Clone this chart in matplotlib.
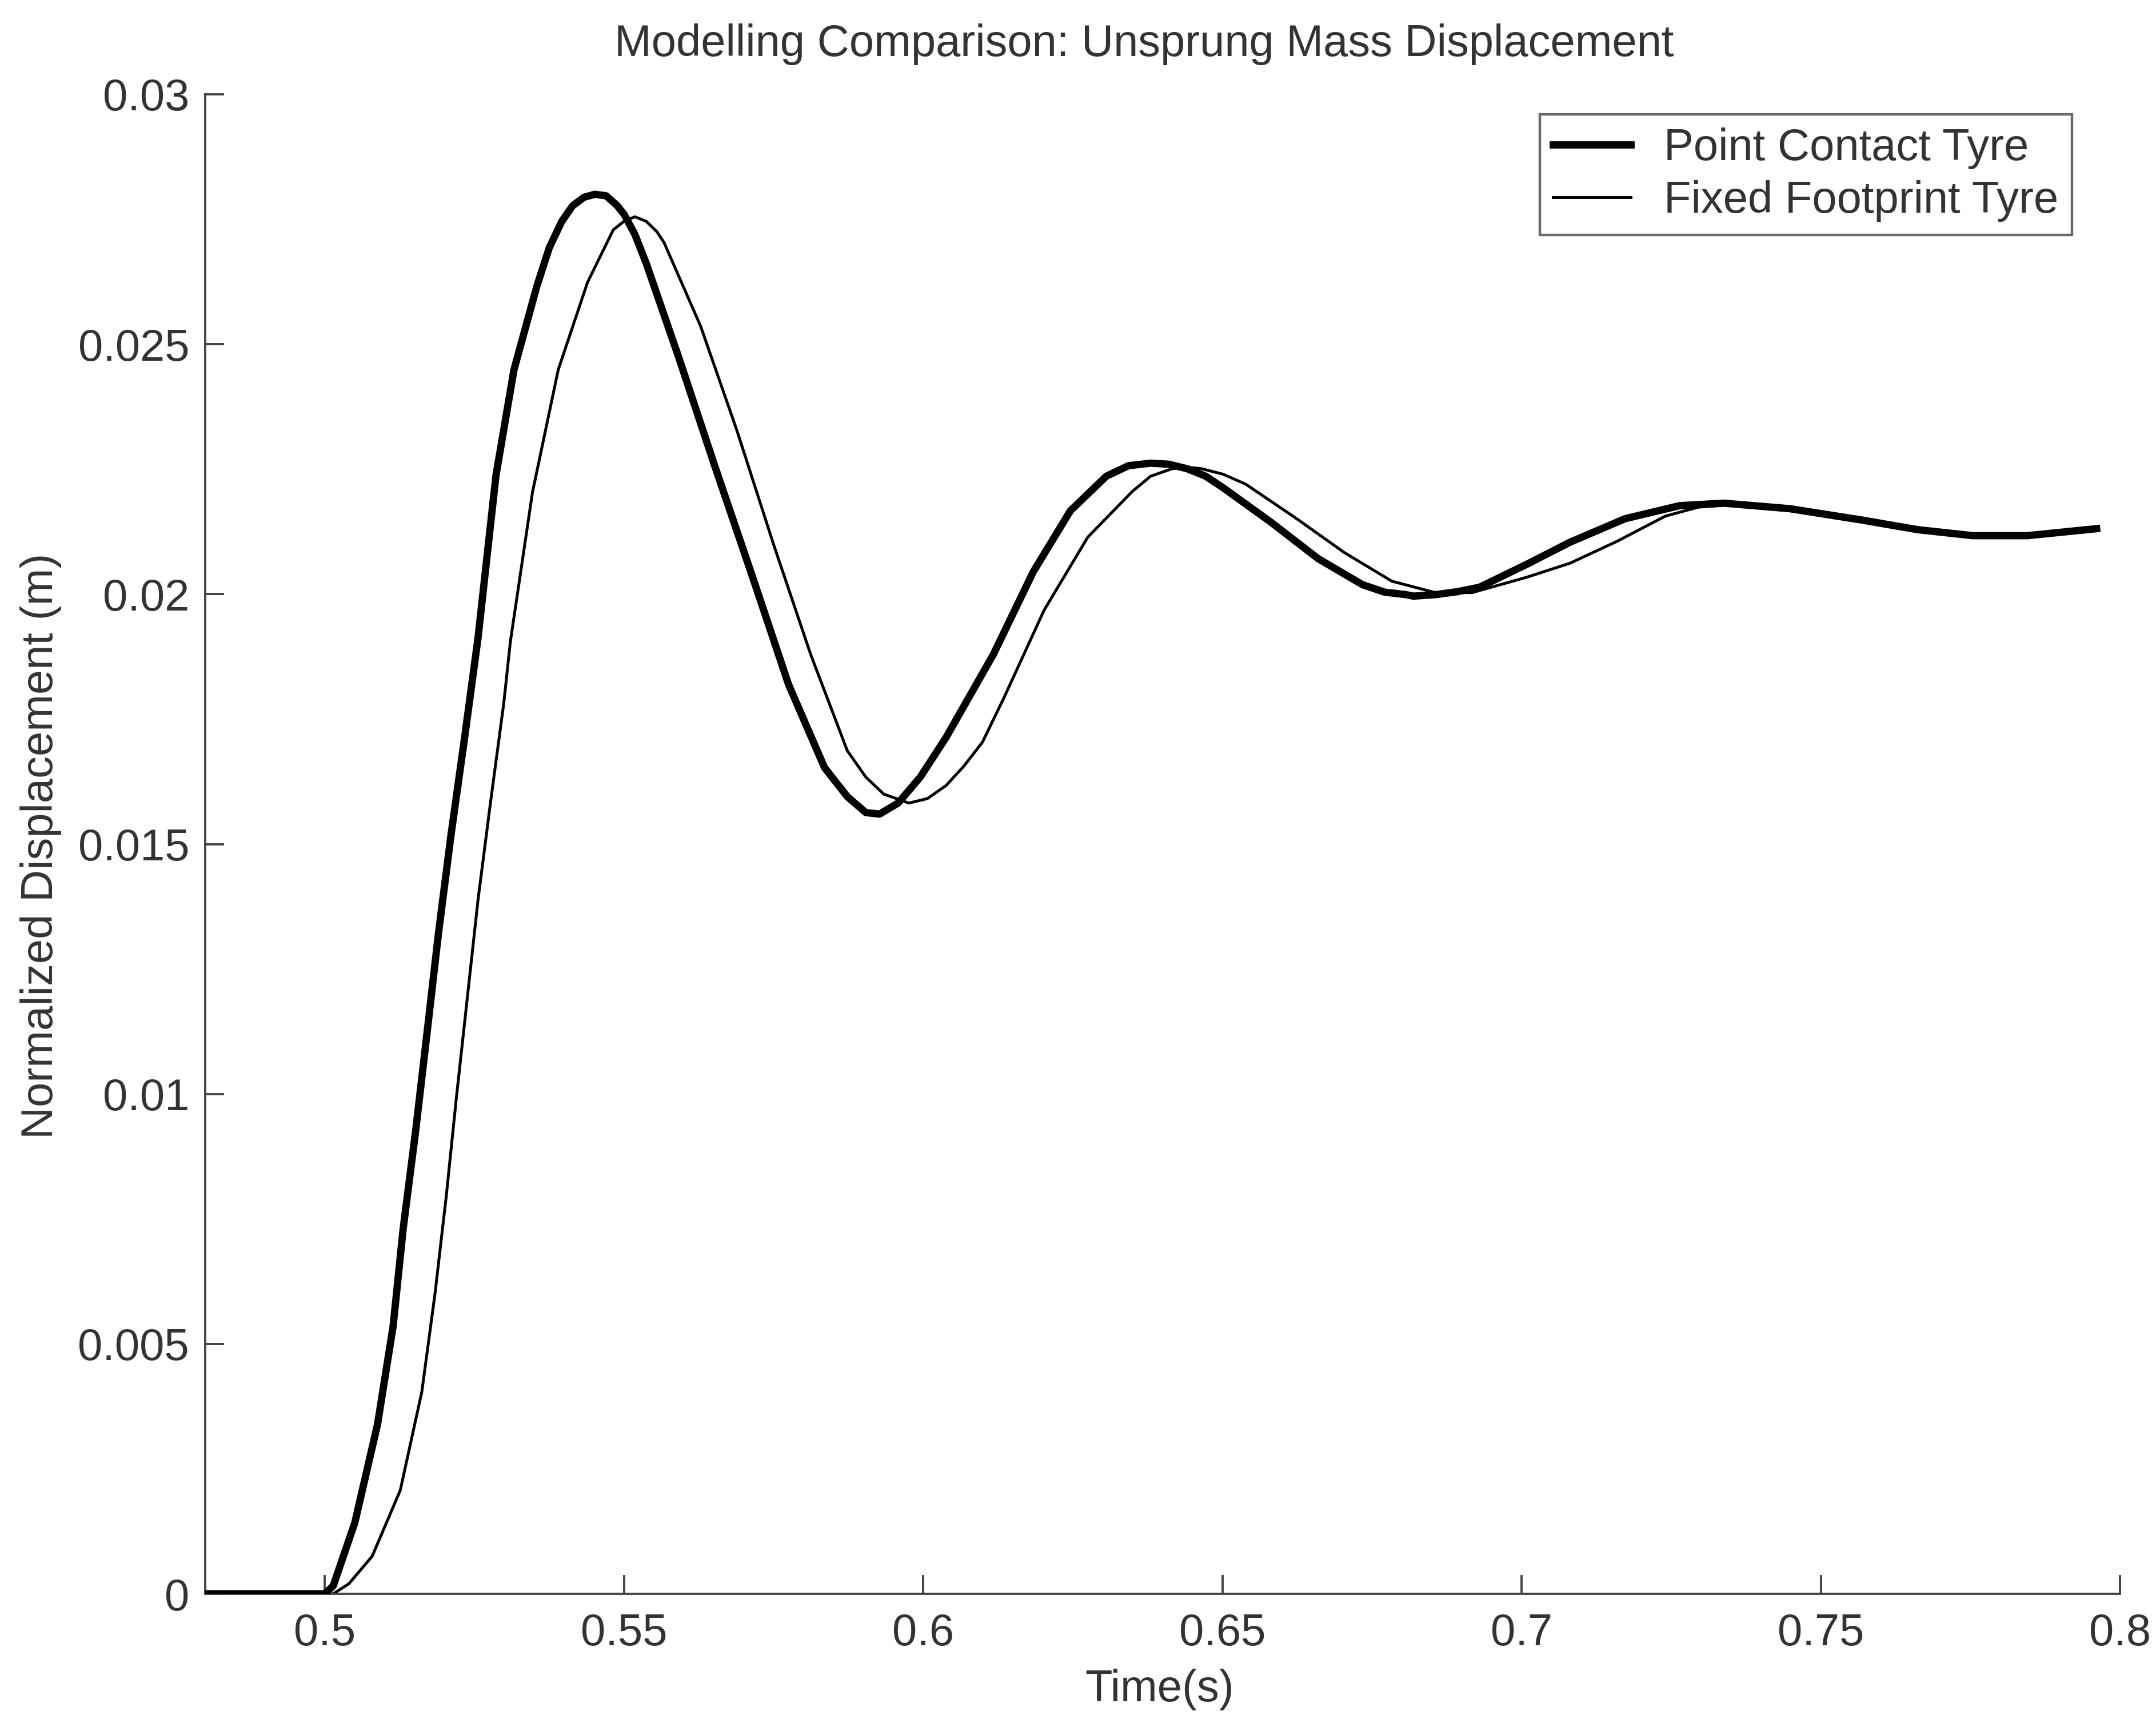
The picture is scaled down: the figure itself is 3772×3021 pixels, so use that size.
import matplotlib
matplotlib.use("Agg")
import matplotlib.pyplot as plt
from matplotlib.ticker import FixedLocator, FixedFormatter

plt.rcParams['font.family'] = ['Liberation Sans', 'DejaVu Sans']

# Point contact tyre model: time (s) and unsprung mass displacement (m)
t_point = [0.480, 0.500, 0.5014, 0.5050, 0.5088, 0.5114, 0.5131, 0.5152, 0.5171,
           0.5190, 0.5211, 0.5234, 0.5256, 0.5286, 0.5316, 0.5354, 0.5375, 0.5396,
           0.5414, 0.5433, 0.5451, 0.5470, 0.5488, 0.5500, 0.5518, 0.5537, 0.5591,
           0.5652, 0.5714, 0.5775, 0.5835, 0.5873, 0.5904, 0.5927, 0.5958, 0.5995,
           0.6038, 0.6117, 0.6184, 0.6246, 0.6306, 0.6343, 0.6380, 0.6410, 0.6441,
           0.6472, 0.6501, 0.6581, 0.6660, 0.6734, 0.6771, 0.6807, 0.6819, 0.6856,
           0.6893, 0.6930, 0.7009, 0.7081, 0.7173, 0.7264, 0.7338, 0.7448, 0.7570,
           0.7662, 0.7754, 0.7845, 0.7961]
d_point = [0.0, 0.0, 0.00016, 0.00142, 0.00339, 0.00535, 0.00732, 0.00929, 0.01125,
           0.01323, 0.01520, 0.01717, 0.01913, 0.02238, 0.02449, 0.02615, 0.02693, 0.02746,
           0.02777, 0.02794, 0.02800, 0.02797, 0.02778, 0.02760, 0.02720, 0.02662, 0.02475,
           0.02255, 0.02037, 0.01819, 0.01653, 0.01595, 0.01563, 0.01560, 0.01582, 0.01634,
           0.01713, 0.01879, 0.02045, 0.02167, 0.02236, 0.02257, 0.02262, 0.02260, 0.02251,
           0.02236, 0.02213, 0.02144, 0.02071, 0.02019, 0.02004, 0.01999, 0.01996, 0.01999,
           0.02005, 0.02014, 0.02060, 0.02104, 0.02151, 0.02177, 0.02182, 0.02171, 0.02148,
           0.02129, 0.02117, 0.02117, 0.02131]

# Fixed footprint tyre model
t_foot = [0.480, 0.500, 0.5014, 0.5040, 0.5079, 0.5126, 0.5162, 0.5184, 0.5203,
          0.5220, 0.5238, 0.5256, 0.5277, 0.5299, 0.5310, 0.5347, 0.5390, 0.5439,
          0.5482, 0.5500, 0.5518, 0.5537, 0.5555, 0.5567, 0.5628, 0.5689, 0.5750,
          0.5812, 0.5873, 0.5904, 0.5934, 0.5976, 0.6007, 0.6038, 0.6068, 0.6099,
          0.6135, 0.6202, 0.6275, 0.6349, 0.6380, 0.6416, 0.6441, 0.6465, 0.6501,
          0.6539, 0.6624, 0.6704, 0.6783, 0.6856, 0.6917, 0.7009, 0.7081, 0.7160,
          0.7240, 0.7295, 0.7360, 0.7448, 0.7570, 0.7662, 0.7754, 0.7845, 0.7961]
d_foot = [0.0, 0.0, 0.0, 0.00020, 0.00075, 0.00207, 0.00404, 0.00600, 0.00797,
          0.00995, 0.01192, 0.01389, 0.01585, 0.01782, 0.01905, 0.02204, 0.02449, 0.02624,
          0.02729, 0.02746, 0.02755, 0.02746, 0.02725, 0.02703, 0.02536, 0.02326, 0.02099,
          0.01879, 0.01687, 0.01634, 0.01600, 0.01582, 0.01591, 0.01617, 0.01656, 0.01704,
          0.01793, 0.01968, 0.02114, 0.02205, 0.02236, 0.02251, 0.02254, 0.02251, 0.02240,
          0.02220, 0.02151, 0.02083, 0.02026, 0.02003, 0.02003, 0.02034, 0.02062, 0.02106,
          0.02156, 0.02174, 0.02180, 0.02175, 0.02152, 0.02132, 0.02119, 0.02117, 0.02131]

x_ticks = [0.5, 0.55, 0.6, 0.65, 0.7, 0.75, 0.8]
x_tick_labels = ['0.5', '0.55', '0.6', '0.65', '0.7', '0.75', '0.8']
y_ticks = [0.0, 0.005, 0.01, 0.015, 0.02, 0.025, 0.03]
y_tick_labels = ['0', '0.005', '0.01', '0.015', '0.02', '0.025', '0.03']

text_color = '#333333'
axis_color = '#444444'

W, H = 3773, 3021
dpi = 400
fig = plt.figure(figsize=(W / dpi, H / dpi), dpi=dpi, facecolor='white')

left, right = 359 / W, 3709 / W
bottom, top = 1 - 2788 / H, 1 - 165 / H
ax = fig.add_axes([left, bottom, right - left, top - bottom])

ax.plot(t_point, d_point, color='black', lw=2.3, solid_joinstyle='round',
        label='Point Contact Tyre', zorder=3)
ax.plot(t_foot, d_foot, color='black', lw=0.9, solid_joinstyle='round',
        label='Fixed Footprint Tyre', zorder=2)

ax.set_xlim(0.48, 0.8)
ax.set_ylim(0.0, 0.03)

ax.xaxis.set_major_locator(FixedLocator(x_ticks))
ax.xaxis.set_major_formatter(FixedFormatter(x_tick_labels))
ax.yaxis.set_major_locator(FixedLocator(y_ticks))
ax.yaxis.set_major_formatter(FixedFormatter(y_tick_labels))

for side in ('top', 'right'):
    ax.spines[side].set_visible(False)
for side in ('left', 'bottom'):
    ax.spines[side].set_color(axis_color)
    ax.spines[side].set_linewidth(0.7)

ax.tick_params(axis='both', direction='in', length=6, width=0.7,
               color=axis_color, labelcolor=text_color, labelsize=14)
ax.tick_params(axis='x', pad=6)
ax.tick_params(axis='y', pad=5)

fig.text(2002 / W, 1 - 77 / H, 'Modelling Comparison: Unsprung Mass Displacement',
         ha='center', va='center', fontsize=14, color=text_color)
fig.text(2029 / W, 1 - 2955 / H, 'Time(s)',
         ha='center', va='center', fontsize=14, color=text_color)
fig.text(72 / W, 1 - 1480 / H, 'Normalized Displacement (m)', rotation=90,
         ha='center', va='center', fontsize=14, color=text_color)

leg = ax.legend(loc='upper right', bbox_to_anchor=(3625 / W, 1 - 200 / H),
                bbox_transform=fig.transFigure, fontsize=14, frameon=True,
                fancybox=False, shadow=False, handlelength=1.75, handletextpad=0.75,
                labelspacing=0.24, borderpad=0.3, borderaxespad=0.0)
leg.get_frame().set_edgecolor(axis_color)
leg.get_frame().set_linewidth(0.8)
for txt in leg.get_texts():
    txt.set_color(text_color)

fig.savefig('out.png', dpi=dpi, facecolor='white')
